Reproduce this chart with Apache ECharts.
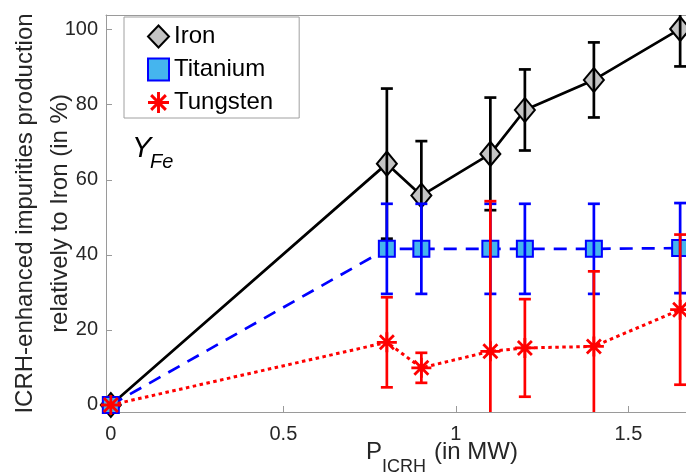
<!DOCTYPE html>
<html>
<head>
<meta charset="utf-8">
<script src="https://cdn.jsdelivr.net/npm/echarts@6/dist/echarts.min.js"></script>
<style>html,body{margin:0;padding:0;background:#fff}#c{width:686px;height:472px}</style>
</head>
<body>
<div id="c"></div>
<script>
// ---- data ----
const xVals = [0, 0.8, 0.9, 1.1, 1.2, 1.4, 1.65];
const ironY = [0, 64.3, 55.8, 66.9, 78.6, 86.6, 100.2];
const ironErr = [0, 20, 14.5, 15, 10.8, 10, 10];
const titaniumY = [0, 41.6, 41.6, 41.6, 41.6, 41.6, 41.8];
const titaniumErr = [0, 12, 12, 12, 12, 12, 12];
const tungstenY = [0, 16.7, 9.9, 14.3, 15.2, 15.6, 25.4];
const tungstenErr = [0, 12, 4, 40, 13, 20, 20];
const xTicks = [0, 0.5, 1, 1.5];
const yTicks = [0, 20, 40, 60, 80, 100];
const seriesNames = ['Iron', 'Titanium', 'Tungsten'];

const FONT = '"Liberation Sans", Arial, sans-serif';
const AST = 'path://M-10,-1.4L10,-1.4L10,1.4L-10,1.4Z M-1.4,-10L1.4,-10L1.4,10L-1.4,10Z M-6.01,-7.99L7.99,6.01L6.01,7.99L-7.99,-6.01Z M-7.99,6.01L6.01,-7.99L7.99,-6.01L-6.01,7.99Z';

function pts(ys) { return xVals.map((x, i) => [x, ys[i]]); }
function errPts(ys, es) { return xVals.map((x, i) => [x, ys[i], es[i]]); }

function errRender(color) {
  return function (params, api) {
    const x = api.value(0), y = api.value(1), e = api.value(2);
    if (!e) return null;
    const cs = params.coordSys;
    const top = api.coord([x, y + e]);
    const bot = api.coord([x, y - e]);
    const yMinPix = cs.y, yMaxPix = cs.y + cs.height;
    const hw = 6;
    const st = { stroke: color, lineWidth: 2.7 };
    const t = Math.max(top[1], yMinPix), b = Math.min(bot[1], yMaxPix);
    const ch = [{ type: 'line', shape: { x1: top[0], y1: t, x2: bot[0], y2: b }, style: st }];
    if (top[1] >= yMinPix) ch.push({ type: 'line', shape: { x1: top[0] - hw, y1: top[1], x2: top[0] + hw, y2: top[1] }, style: st });
    if (bot[1] <= yMaxPix) ch.push({ type: 'line', shape: { x1: bot[0] - hw, y1: bot[1], x2: bot[0] + hw, y2: bot[1] }, style: st });
    return { type: 'group', children: ch };
  };
}

const chart = echarts.init(document.getElementById('c'), null, { renderer: 'canvas' });
const axisGray = '#9a9a9a';
const txt = '#262626';

chart.setOption({
  animation: false,
  backgroundColor: '#fff',
  textStyle: { fontFamily: FONT },
  grid: { left: 106, right: 0, top: 15, bottom: 60, containLabel: false, outerBoundsMode: 'none' },
  xAxis: [{
    type: 'value', min: -0.014, max: 1.667,
    axisLine: { show: true, onZero: false, lineStyle: { color: axisGray, width: 1 } },
    axisTick: { show: true, inside: true, length: 6, customValues: xTicks, lineStyle: { color: axisGray } },
    axisLabel: { customValues: xTicks, color: txt, fontSize: 20, fontFamily: FONT, margin: 12, hideOverlap: false },
    splitLine: { show: false }
  }, {
    type: 'value', position: 'top', min: -0.014, max: 1.667,
    axisLine: { show: true, onZero: false, lineStyle: { color: axisGray, width: 1 } },
    axisTick: { show: false }, axisLabel: { show: false }, splitLine: { show: false }
  }],
  yAxis: {
    type: 'value', min: -1.87, max: 103.9,
    axisLine: { show: true, onZero: false, lineStyle: { color: axisGray, width: 1 } },
    axisTick: { show: true, inside: true, length: 6, customValues: yTicks, lineStyle: { color: axisGray } },
    axisLabel: { customValues: yTicks, color: txt, fontSize: 20, fontFamily: FONT, margin: 8 },
    splitLine: { show: false },
    name: 'ICRH-enhanced impurities production\nrelatively to Iron (in %)',
    nameLocation: 'middle', nameRotate: 90, nameGap: 28, nameMoveOverlap: false,
    nameTextStyle: { color: txt, fontSize: 24, fontFamily: FONT, lineHeight: 35, align: 'center' }
  },
  legend: {
    orient: 'vertical', left: 124, top: 17,
    padding: [6, 26, 2, 23], itemGap: 6, itemWidth: 21, itemHeight: 22, itemTextGap: 5,
    borderColor: '#a0a0a0', borderWidth: 1, backgroundColor: '#fff',
    textStyle: { color: '#000', fontSize: 24, fontFamily: FONT, lineHeight: 27 },
    data: [
      { name: 'Iron', icon: 'diamond' },
      { name: 'Titanium', icon: 'rect' },
      { name: 'Tungsten', icon: AST }
    ],
    z: 20
  },
  graphic: [
    { type: 'text', left: 132, top: 134, style: { text: 'Y', font: 'italic 29px ' + FONT, fill: '#000' } },
    { type: 'text', left: 150, top: 152, style: { text: 'Fe', font: 'italic 20px ' + FONT, fill: '#000' } },
    { type: 'text', left: 366, top: 440, style: { text: 'P', font: '24px ' + FONT, fill: txt } },
    { type: 'text', left: 382, top: 458, style: { text: 'ICRH', font: '18px ' + FONT, fill: txt } },
    { type: 'text', left: 434, top: 440, style: { text: '(in MW)', font: '24px ' + FONT, fill: txt } }
  ],
  series: [
    { name: seriesNames[0], type: 'line', data: pts(ironY), z: 2,
      lineStyle: { color: '#000', width: 2.7, type: 'solid' },
      symbol: 'diamond', symbolSize: [20, 24], showAllSymbol: true,
      itemStyle: { color: '#c4c4c4', borderColor: '#000', borderWidth: 2 } },
    { name: 'Iron err', type: 'custom', renderItem: errRender('#000'), data: errPts(ironY, ironErr), z: 3, silent: true },
    { name: seriesNames[1], type: 'line', data: pts(titaniumY), z: 4,
      lineStyle: { color: '#0000ff', width: 2.7, type: [13, 9] },
      symbol: 'rect', symbolSize: 16, showAllSymbol: true,
      itemStyle: { color: '#45b5ee', borderColor: '#0000ff', borderWidth: 2 } },
    { name: 'Titanium err', type: 'custom', renderItem: errRender('#0000ff'), data: errPts(titaniumY, titaniumErr), z: 5, silent: true },
    { name: seriesNames[2], type: 'line', data: pts(tungstenY), z: 6,
      lineStyle: { color: '#ff0000', width: 3, type: [3.5, 3.5] },
      symbol: AST, symbolSize: 20, showAllSymbol: true,
      itemStyle: { color: '#ff0000', borderWidth: 0 } },
    { name: 'Tungsten err', type: 'custom', renderItem: errRender('#ff0000'), data: errPts(tungstenY, tungstenErr), z: 7, silent: true }
  ]
});
</script>
</body>
</html>
